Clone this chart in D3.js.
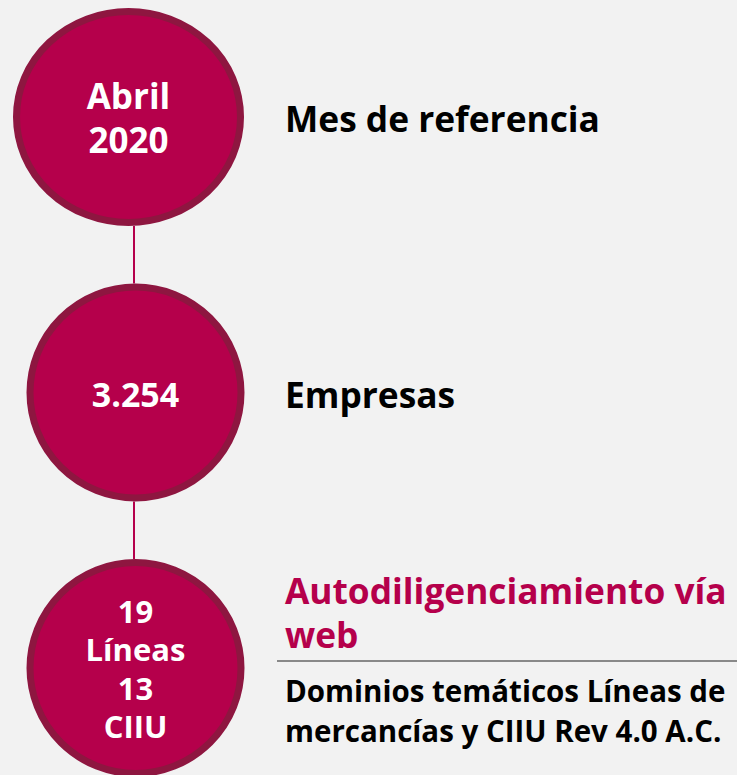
<!DOCTYPE html>
<html>
<head>
<meta charset="utf-8">
<script src="https://cdn.jsdelivr.net/npm/d3@7"></script>
<style>
  html, body { margin: 0; padding: 0; background: #f2f2f2; }
  svg { display: block; font-family: "Open Sans", "Noto Sans", sans-serif; font-weight: 700; }
</style>
</head>
<body>
<div id="chart"></div>
<script>
// steps of the ficha, top to bottom
const steps = ["mes", "empresas", "recoleccion"];
const circleLines = [["Abril", "2020"], ["3.254"], ["19", "Líneas", "13", "CIIU"]];
const titleLines = [["Mes de referencia"], ["Empresas"], ["Autodiligenciamiento vía", "web"]];
const noteLines = [[], [], ["Dominios temáticos Líneas de", "mercancías y CIIU Rev 4.0 A.C."]];

const width = 737;
const height = 775;
const crimson = "#b5004b";
const ring = "#8e1640";

const svg = d3.select("#chart").append("svg")
  .attr("width", width)
  .attr("height", height);

svg.append("rect").attr("width", width).attr("height", height).attr("fill", "#f2f2f2");

const y = d3.scalePoint().domain(steps).range([117, 668]);
const cx = 135.5;
const r = 109;

// first bubble is a bit wider than the other two
const rx = (d, i) => (i === 0 ? 115.5 : r);
const ex = (d, i) => (i === 0 ? 128.5 : cx);
const bubbleFont = [35, 34, 31];

const data = steps.map((s, i) => ({
  key: s,
  circle: circleLines[i],
  title: titleLines[i],
  note: noteLines[i],
}));

// connectors
svg.append("g").selectAll("line")
  .data(d3.pairs(steps))
  .join("line")
  .attr("x1", cx - 1.5).attr("x2", cx - 1.5)
  .attr("y1", (d) => y(d[0]) + r)
  .attr("y2", (d) => y(d[1]) - r)
  .attr("stroke", crimson)
  .attr("stroke-width", 2);

const bubble = svg.append("g").selectAll("g")
  .data(data)
  .join("g")
  .attr("transform", (d, i) => `translate(${ex(d, i)},${y(d.key)})`);

bubble.append("ellipse")
  .attr("rx", (d, i) => rx(d, i) - 3.5)
  .attr("ry", r - 3.5)
  .attr("fill", crimson)
  .attr("stroke", ring)
  .attr("stroke-width", 7);

bubble.append("text")
  .attr("text-anchor", "middle")
  .attr("fill", "#fff")
  .attr("font-size", (d, i) => bubbleFont[i])
  .selectAll("tspan")
  .data((d) => d.circle.map((t, i, a) => ({ t, i, n: a.length })))
  .join("tspan")
  .attr("x", 0)
  .attr("y", (d) => (d.n > 2
    ? (d.i - (d.n - 1) / 2) * 38.3 + 12.5
    : (d.i - (d.n - 1) / 2) * 44 + 14))
  .text((d) => d.t);

// labels on the right
const tx = 286;
const label = svg.append("g").selectAll("g")
  .data(data)
  .join("g")
  .attr("transform", (d) => `translate(${tx},${y(d.key)})`);

label.append("text")
  .attr("fill", (d) => (d.note.length ? crimson : "#000"))
  .attr("font-size", 35.3)
  .selectAll("tspan")
  .data((d) => d.title.map((t, i, a) => ({ t, i, n: a.length })))
  .join("tspan")
  .attr("x", -1)
  .attr("y", (d) => (d.n > 1 ? -64 + d.i * 44 : 15))
  .text((d) => d.t);

const noted = label.filter((d) => d.note.length);

noted.append("line")
  .attr("x1", -9).attr("x2", width - tx)
  .attr("y1", -7).attr("y2", -7)
  .attr("stroke", "#666")
  .attr("stroke-width", 1.5);

noted.append("text")
  .attr("fill", "#000")
  .attr("font-size", 29.5)
  .selectAll("tspan")
  .data((d) => d.note.map((t, i) => ({ t, i })))
  .join("tspan")
  .attr("x", -1)
  .attr("y", (d) => 34 + d.i * 40)
  .text((d) => d.t);
</script>
</body>
</html>
